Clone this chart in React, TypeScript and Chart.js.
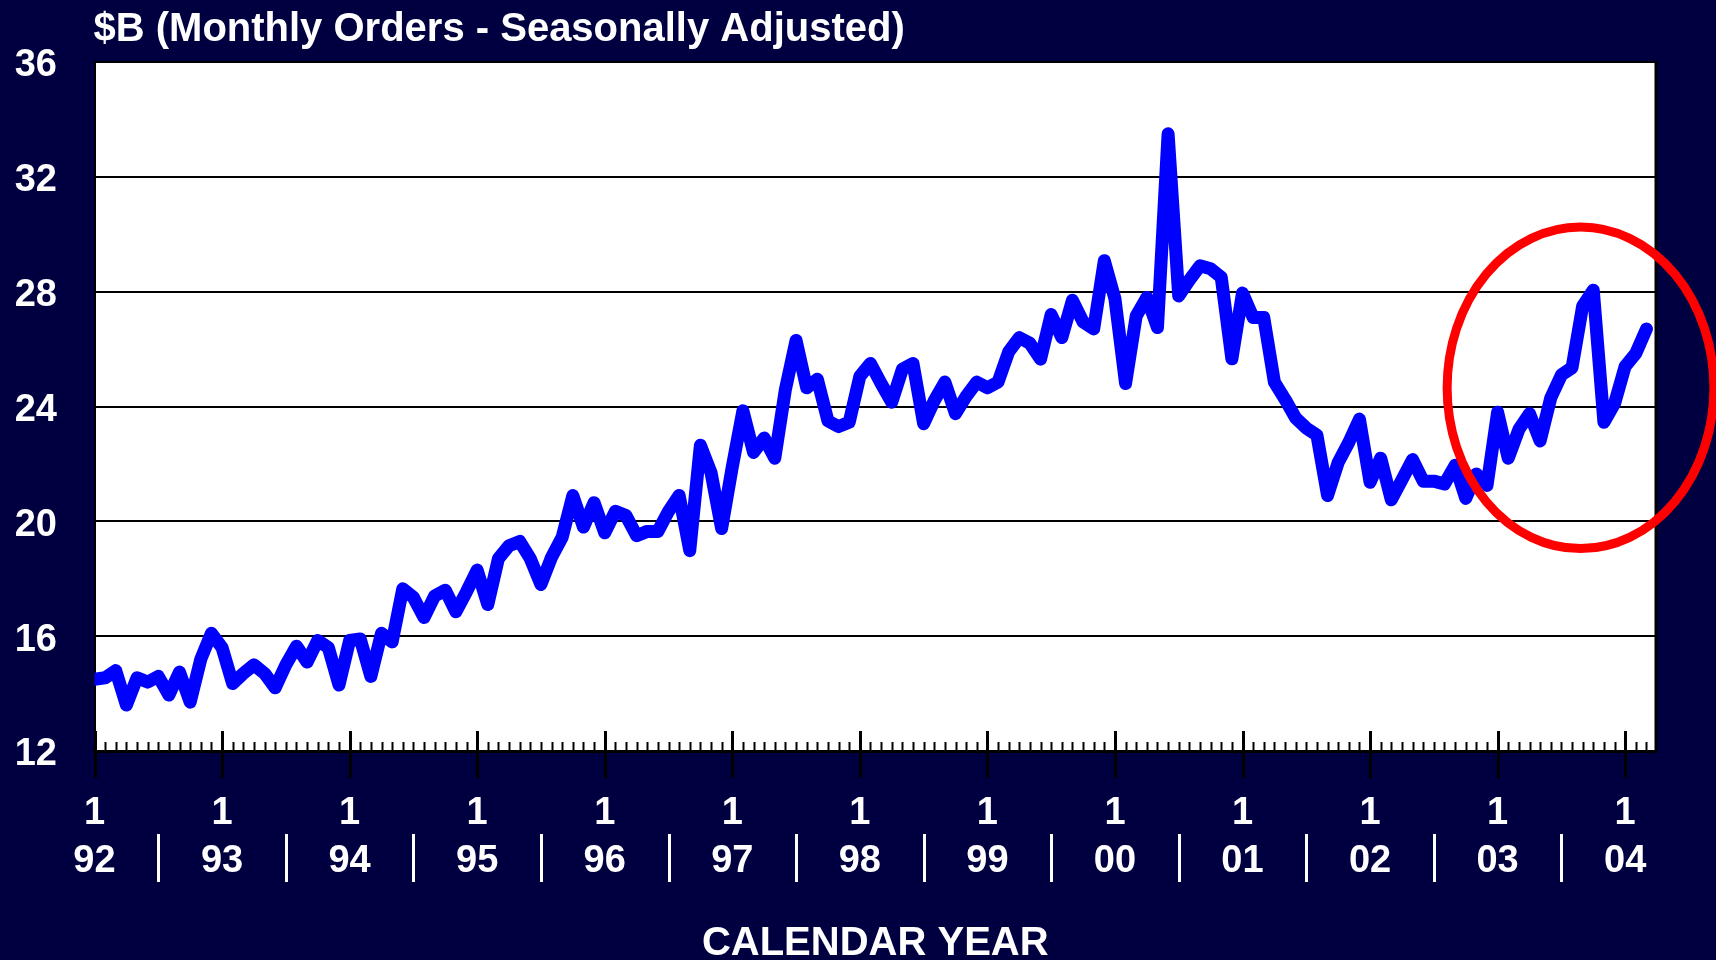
import React, { useEffect, useRef } from "react";
import { Chart, registerables } from "chart.js";

Chart.register(...registerables);

// ---------- text ----------
const TITLE = "$B (Monthly Orders - Seasonally Adjusted)";
const X_AXIS_TITLE = "CALENDAR YEAR";
const MONTH_LABEL = "1";
const YEAR_LABELS = ["92", "93", "94", "95", "96", "97", "98", "99", "00", "01", "02", "03", "04"];

// ---------- y axis ----------
const Y_MIN = 12;
const Y_MAX = 36;
const Y_STEP = 4;

// ---------- monthly orders, $B (Jan 1992 .. Mar 2004) ----------
const ORDERS_1992 = [14.5, 14.55, 14.8, 13.6, 14.55, 14.4, 14.6, 13.95, 14.75, 13.7, 15.2, 16.1];
const ORDERS_1993 = [15.6, 14.35, 14.7, 15.0, 14.7, 14.2, 15.0, 15.65, 15.1, 15.85, 15.6, 14.3];
const ORDERS_1994 = [15.85, 15.9, 14.6, 16.1, 15.8, 17.65, 17.35, 16.65, 17.4, 17.6, 16.85, 17.55];
const ORDERS_1995 = [18.3, 17.1, 18.7, 19.15, 19.3, 18.7, 17.8, 18.75, 19.45, 20.9, 19.8, 20.65];
const ORDERS_1996 = [19.6, 20.35, 20.2, 19.5, 19.65, 19.65, 20.35, 20.9, 18.98, 22.65, 21.7, 19.75];
const ORDERS_1997 = [21.9, 23.85, 22.4, 22.9, 22.2, 24.6, 26.3, 24.65, 24.95, 23.5, 23.3, 23.45];
const ORDERS_1998 = [25.05, 25.5, 24.8, 24.15, 25.3, 25.5, 23.4, 24.2, 24.85, 23.75, 24.35, 24.85];
const ORDERS_1999 = [24.65, 24.85, 25.9, 26.4, 26.2, 25.65, 27.2, 26.4, 27.7, 26.95, 26.7, 29.08];
const ORDERS_2000 = [27.75, 24.8, 27.15, 27.8, 26.75, 33.5, 27.85, 28.4, 28.9, 28.8, 28.5, 25.66];
const ORDERS_2001 = [27.95, 27.1, 27.1, 24.85, 24.25, 23.6, 23.25, 23.0, 20.9, 22.05, 22.75, 23.56];
const ORDERS_2002 = [21.36, 22.2, 20.75, 21.45, 22.15, 21.4, 21.4, 21.3, 21.95, 20.8, 21.65, 21.25];
const ORDERS_2003 = [23.8, 22.2, 23.2, 23.75, 22.8, 24.3, 25.1, 25.35, 27.5, 28.05, 23.45, 24.1];
const ORDERS_2004 = [25.4, 25.85, 26.7];

const MONTHLY_ORDERS = [
  ...ORDERS_1992, ...ORDERS_1993, ...ORDERS_1994, ...ORDERS_1995, ...ORDERS_1996,
  ...ORDERS_1997, ...ORDERS_1998, ...ORDERS_1999, ...ORDERS_2000, ...ORDERS_2001,
  ...ORDERS_2002, ...ORDERS_2003, ...ORDERS_2004,
];

// month index range shown on the x axis (0 = Jan 1992)
const X_MIN = 0;
const X_MAX = 146.9;

// highlighted region (red ring), in data units
const HIGHLIGHT_MONTH = 139.8;
const HIGHLIGHT_VALUE = 24.65;
const HIGHLIGHT_HALF_MONTHS = 12.55;
const HIGHLIGHT_HALF_VALUE = 5.6;

// ---------- styles ----------
const NAVY = "#000040";
const LINE_BLUE = "#0000FF";
const FONT = "'Liberation Sans', Arial, Helvetica, sans-serif";

const decorPlugin = {
  id: "decor",
  beforeDraw(chart: any) {
    const { ctx, chartArea: a, width, height } = chart;
    ctx.save();
    ctx.fillStyle = NAVY;
    ctx.fillRect(0, 0, width, height);
    ctx.fillStyle = "#FFFFFF";
    ctx.fillRect(a.left, a.top, a.right - a.left, a.bottom - a.top);
    ctx.restore();
  },
  afterDraw(chart: any) {
    const { ctx, chartArea: a } = chart;
    const xs = chart.scales.x;
    ctx.save();

    // frame (top / right)
    ctx.strokeStyle = "#000000";
    ctx.lineWidth = 2;
    ctx.beginPath();
    ctx.moveTo(a.left, a.top);
    ctx.lineTo(a.right + 1.5, a.top);
    ctx.stroke();
    ctx.lineWidth = 3;
    ctx.beginPath();
    ctx.moveTo(a.right, a.top);
    ctx.lineTo(a.right, a.bottom);
    ctx.stroke();

    // month ticks (minor inside, January ticks crossing the axis)
    for (let m = 0; m < MONTHLY_ORDERS.length; m++) {
      const px = Math.round(xs.getPixelForValue(m)) + 0.5;
      ctx.beginPath();
      if (m % 12 === 0) {
        ctx.lineWidth = 3;
        ctx.moveTo(px, a.bottom - 20);
        ctx.lineTo(px, a.bottom + 27);
      } else {
        ctx.lineWidth = 2;
        ctx.moveTo(px, a.bottom);
        ctx.lineTo(px, a.bottom - 9);
      }
      ctx.stroke();
    }

    // year separators
    ctx.strokeStyle = "#FFFFFF";
    ctx.lineWidth = 3;
    for (let k = 0; k < YEAR_LABELS.length - 1; k++) {
      const px = Math.round(xs.getPixelForValue(k * 12 + 6)) + 0.5;
      ctx.beginPath();
      ctx.moveTo(px, a.bottom + 83);
      ctx.lineTo(px, a.bottom + 131);
      ctx.stroke();
    }

    // title
    ctx.fillStyle = "#FFFFFF";
    ctx.font = `bold 40px ${FONT}`;
    ctx.textAlign = "left";
    ctx.textBaseline = "alphabetic";
    ctx.fillText(TITLE, a.left - 1, 40.5);

    // red highlight ring
    const ys = chart.scales.y;
    const cx = xs.getPixelForValue(HIGHLIGHT_MONTH);
    const cy = ys.getPixelForValue(HIGHLIGHT_VALUE);
    const rx = xs.getPixelForValue(HIGHLIGHT_MONTH + HIGHLIGHT_HALF_MONTHS) - cx;
    const ry = cy - ys.getPixelForValue(HIGHLIGHT_VALUE + HIGHLIGHT_HALF_VALUE);
    ctx.strokeStyle = "#FF0000";
    ctx.lineWidth = 9;
    ctx.beginPath();
    ctx.ellipse(cx, cy, rx, ry, 0, 0, Math.PI * 2);
    ctx.stroke();

    ctx.restore();
  },
};

export default function App() {
  const canvasRef = useRef<HTMLCanvasElement | null>(null);

  useEffect(() => {
    document.body.style.margin = "0";
    document.body.style.background = NAVY;
    const canvas = canvasRef.current;
    if (!canvas) return;

    const chart = new Chart(canvas, {
      type: "line",
      data: {
        datasets: [
          {
            label: "Monthly Orders",
            data: MONTHLY_ORDERS.map((v, i) => ({ x: i, y: v })),
            borderColor: LINE_BLUE,
            borderWidth: 13,
            borderJoinStyle: "round",
            borderCapStyle: "round",
            pointRadius: 0,
            tension: 0,
            fill: false,
            clip: 0,
          },
        ],
      },
      options: {
        responsive: false,
        animation: false,
        devicePixelRatio: 1,
        layout: { padding: { top: 62, right: 60, left: 0, bottom: 0 } },
        plugins: {
          legend: { display: false },
          tooltip: { enabled: false },
          title: { display: false },
        },
        scales: {
          x: {
            type: "linear",
            min: X_MIN,
            max: X_MAX,
            grid: { display: false, drawTicks: false, tickLength: 0 },
            border: { display: true, color: "#000000", width: 3 },
            afterBuildTicks: (scale: any) => {
              scale.ticks = YEAR_LABELS.map((_, k) => ({ value: k * 12 }));
            },
            afterFit: (scale: any) => {
              scale.height = 209;
            },
            ticks: {
              autoSkip: false,
              maxRotation: 0,
              minRotation: 0,
              padding: 39,
              color: "#FFFFFF",
              font: { family: FONT, size: 38, weight: "bold", lineHeight: 1.263 },
              callback: (_v: any, index: number) => [MONTH_LABEL, YEAR_LABELS[index]],
            },
            title: {
              display: true,
              text: X_AXIS_TITLE,
              color: "#FFFFFF",
              font: { family: FONT, size: 40, weight: "bold", lineHeight: 0.78 },
              padding: { top: 0, bottom: 0 },
            },
          },
          y: {
            type: "linear",
            min: Y_MIN,
            max: Y_MAX,
            grid: { color: "#000000", lineWidth: 2, drawTicks: false, tickLength: 0 },
            border: { display: true, color: "#000000", width: 2 },
            afterFit: (scale: any) => {
              scale.width = 94.5;
            },
            ticks: {
              stepSize: Y_STEP,
              padding: 37.5,
              labelOffset: 4,
              color: "#FFFFFF",
              font: { family: FONT, size: 38, weight: "bold" },
            },
          },
        },
      },
      plugins: [decorPlugin],
    } as any);

    return () => chart.destroy();
  }, []);

  return (
    <div style={{ width: 1716, height: 960, background: NAVY }}>
      <canvas ref={canvasRef} width={1716} height={960} style={{ display: "block" }} />
    </div>
  );
}
